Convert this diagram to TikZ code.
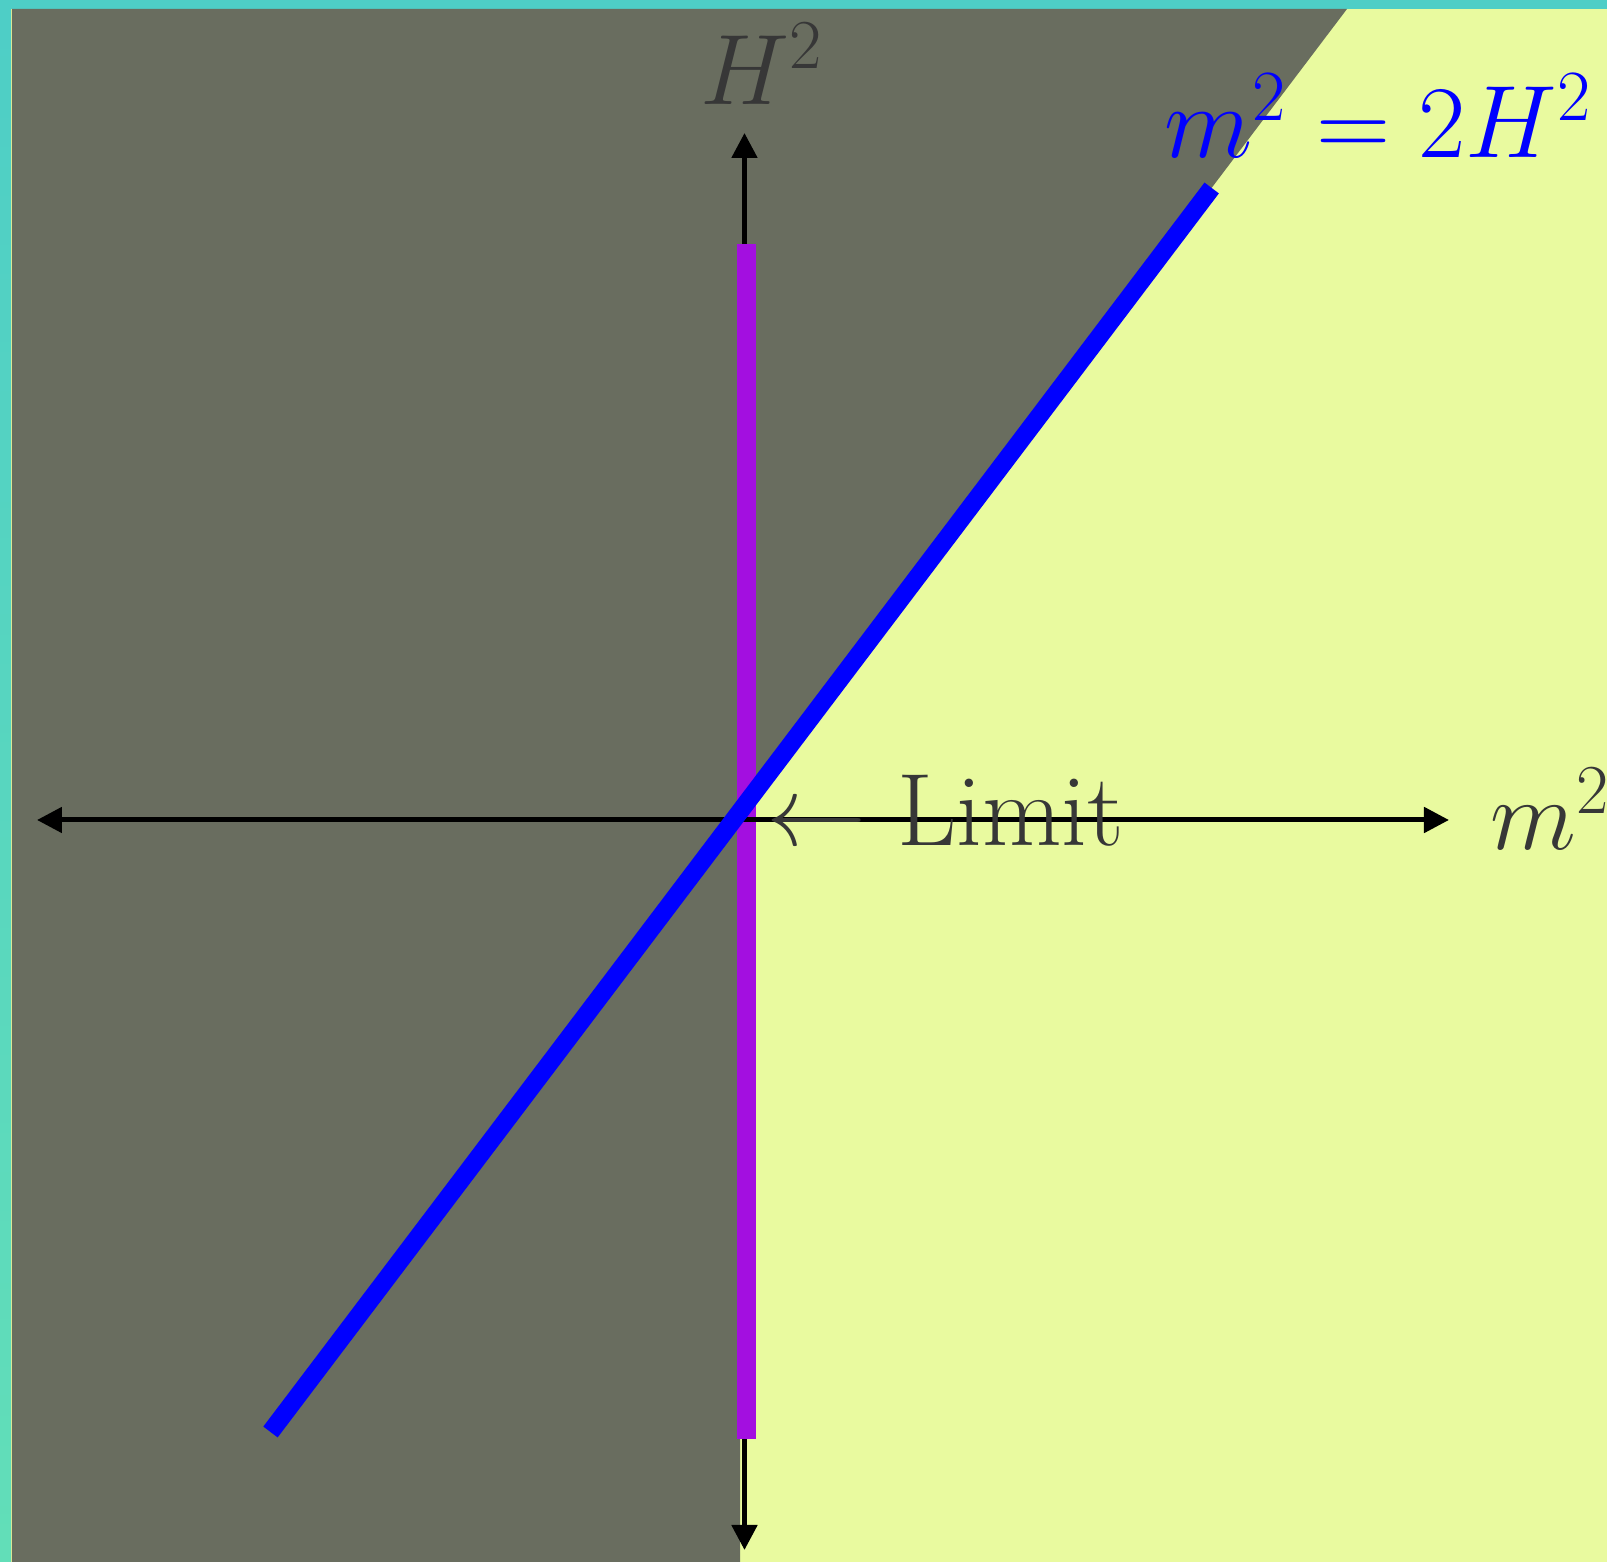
\RequirePackage{fix-cm}
\documentclass[tikz,border=0pt]{standalone}
\usetikzlibrary{arrows.meta}
\definecolor{frameTop}{RGB}{78,206,198}
\definecolor{frameBot}{RGB}{98,222,184}
\definecolor{regionGrey}{RGB}{105,109,95}
\definecolor{regionYellow}{RGB}{233,250,159}
\definecolor{limitPurple}{RGB}{163,15,224}
\definecolor{labelGrey}{RGB}{55,55,55}
\tikzset{
  axis/.style={line width=0.5mm, black, {Triangle[length=2.5mm,width=2.5mm]}-{Triangle[length=2.5mm,width=2.5mm]}},
  label/.style={inner sep=0pt, text=labelGrey}
}
\begin{document}
\begin{tikzpicture}[font=\fontsize{28.5}{34}\selectfont]
	% Khung nền
	\useasboundingbox (-7.43,-7.42) rectangle (8.64,8.20);
	\shade[top color=frameTop, bottom color=frameBot] (-7.43,-7.42) rectangle (8.64,8.20);
	\fill[regionYellow] (-7.32,-7.42) rectangle (8.64,8.11);
	
	% Miền xám
	\fill[regionGrey] (-7.31,8.11) -- (6.04,8.11) -- (-0.028,0.09) -- (-0.028,-7.42) -- (-7.31,-7.42) -- cycle;
	
	% Trục đứng
	\coordinate (Yb) at (0.015,-7.30);
	\coordinate (Yt) at (0.015,6.87);
	\draw[axis] (Yb) -- (Yt);
	
	% Giới hạn
	\coordinate (L1) at (0.037,-6.19);
	\coordinate (L2) at (0.037,5.76);
	\draw[limitPurple, line width=1.87mm] (L1) -- (L2);
	
	% Trục ngang
	\coordinate (Xl) at (-7.06,0);
	\coordinate (Xr) at (7.06,0);
	\draw[axis] (Xl) -- (Xr);
	
	% Đường m^2 = 2H^2
	\coordinate (B1) at (-4.725,-6.12);
	\coordinate (B2) at (4.687,6.32);
	\draw[blue, line width=1.8mm] (B1) -- (B2);
	
	% Nhãn
	\node[label, anchor=base west] (labH) at (-0.43,7.15) {$H^2$};
	\node[label, anchor=base west] (labM) at (7.47,-0.30) {$m^2$};
	\node[inner sep=0pt, text=blue, anchor=base east, font=\fontsize{29.3}{35}\selectfont] (labLine) at (8.50,6.62) {$m^2=2H^2$};
	\node[label, anchor=base west] (labLimit) at (0.23,-0.26) {$\leftarrow$ {\fontsize{29.3}{35}\selectfont Limit}};
\end{tikzpicture}
\end{document}
